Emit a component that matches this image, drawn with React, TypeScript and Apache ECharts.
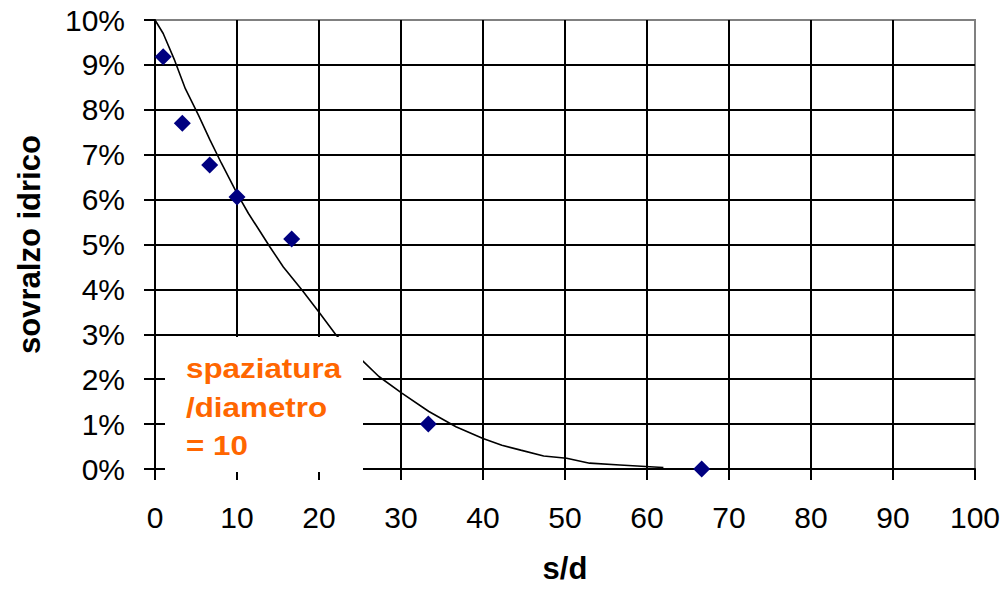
import React, { useEffect, useRef } from "react";
import * as echarts from "echarts";

// measured points: spacing/diameter vs water rise (%)
const sdPoints = [1, 3.33, 6.67, 10, 16.67, 33.33, 66.67];
const risePoints = [9.18, 7.7, 6.77, 6.06, 5.12, 1.0, 0.0];

// fitted curve
const curveX = [0, 1, 2.4, 3.7, 5.3, 6.7, 8.1, 10, 11.4, 12.6, 14.0, 15.65, 17.9, 20.1, 22.1, 25.2, 27.3, 30.1, 33.4, 36.7, 40, 42.3, 44.6, 47.4, 50.2, 53, 56.7, 61.4, 62];
const curveY = [10, 9.7, 9.1, 8.47, 7.88, 7.33, 6.81, 6.14, 5.69, 5.35, 4.95, 4.5, 3.99, 3.47, 2.98, 2.43, 2.06, 1.69, 1.28, 0.94, 0.68, 0.53, 0.42, 0.29, 0.24, 0.13, 0.09, 0.04, 0.03];

const xTitle = "s/d";
const yTitle = "sovralzo idrico";
const noteLines = ["spaziatura", "/diametro", "= 10"];

const FONT = 'Arial, "Liberation Sans", sans-serif';

export default function App() {
  const ref = useRef<HTMLDivElement>(null);
  useEffect(() => {
    if (!ref.current) return;
    const chart = echarts.init(ref.current, null, { renderer: "svg" });
    const axisCommon = {
      axisLine: { show: true, onZero: false, lineStyle: { color: "#000", width: 2 } },
      axisTick: { show: true, inside: false, length: 11, lineStyle: { color: "#000", width: 2 } },
      splitLine: { show: true, showMaxLine: false, lineStyle: { color: "#000", width: 2 } },
    };
    chart.setOption({
      animation: false,
      backgroundColor: "#fff",
      grid: {
        left: 155,
        right: 30,
        top: 20,
        bottom: 121,
        outerBoundsMode: "none",
        containLabel: false,
        show: true,
        borderColor: "#808080",
        borderWidth: 2,
        backgroundColor: "transparent",
      },
      xAxis: {
        type: "value",
        min: 0,
        max: 100,
        interval: 10,
        ...axisCommon,
        axisLabel: { fontSize: 30, color: "#000", fontFamily: FONT, margin: 33 },
        name: xTitle,
        nameLocation: "middle",
        nameGap: 84,
        nameTextStyle: {
          fontSize: 31,
          lineHeight: 31,
          fontWeight: "bold",
          color: "#000",
          fontFamily: FONT,
          verticalAlign: "top",
        },
      },
      yAxis: {
        type: "value",
        min: 0,
        max: 10,
        interval: 1,
        ...axisCommon,
        axisLabel: { fontSize: 30, color: "#000", fontFamily: FONT, margin: 30, formatter: "{value}%" },
        name: yTitle,
        nameLocation: "middle",
        nameGap: 110,
        nameRotate: 90,
        nameTextStyle: { fontSize: 31, fontWeight: "bold", color: "#000", fontFamily: FONT },
      },
      series: [
        {
          type: "line",
          data: curveX.map((x, i) => [x, curveY[i]]),
          showSymbol: false,
          smooth: false,
          lineStyle: { color: "#000", width: 1.6 },
          z: 3,
        },
        {
          type: "scatter",
          data: sdPoints.map((x, i) => [x, risePoints[i]]),
          symbol: "diamond",
          symbolSize: 17,
          itemStyle: { color: "#000080", opacity: 1 },
          z: 5,
        },
      ],
      graphic: [
        {
          type: "rect",
          shape: { x: 165, y: 337, width: 198, height: 135 },
          style: { fill: "#fff" },
          z: 100,
        },
        {
          type: "text",
          x: 186,
          y: 407,
          scaleX: 1.12,
          z: 101,
          style: {
            text: noteLines.join("\n"),
            fill: "#FF6600",
            font: `bold 28px ${FONT}`,
            lineHeight: 38.5,
            align: "left",
            verticalAlign: "middle",
          },
        },
      ],
    });
    return () => chart.dispose();
  }, []);
  return (
    <div
      ref={ref}
      style={{ position: "fixed", left: 0, top: 0, width: 1005, height: 590, background: "#fff" }}
    />
  );
}
